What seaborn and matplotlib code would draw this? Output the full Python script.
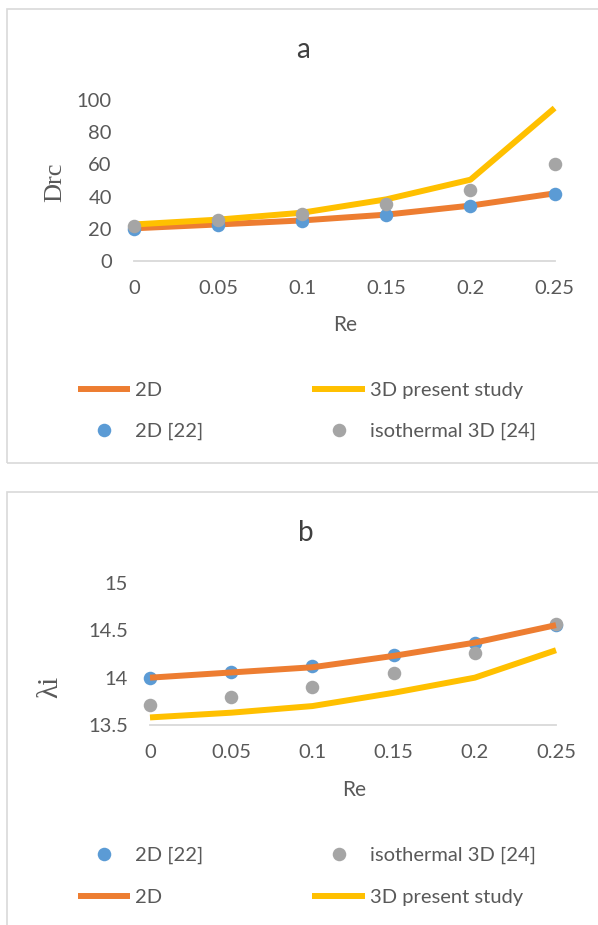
import numpy as np
import pandas as pd
import matplotlib
matplotlib.use("Agg")
import matplotlib.pyplot as plt
from matplotlib.patches import Rectangle
import seaborn as sns

sns.set_style("white")
plt.rcParams['font.family'] = ['Lato', 'DejaVu Sans']

# ------------------------------
# data
# ------------------------------
re_vals = [0, 0.05, 0.1, 0.15, 0.2, 0.25]
re_labels = ["0", "0.05", "0.1", "0.15", "0.2", "0.25"]

# panel a : Drc
drc_2d = [20.3, 22.7, 25.2, 28.8, 34.4, 42.0]
drc_3d_present = [22.7, 25.7, 30.0, 38.3, 50.5, 95.0]
drc_2d_ref22 = [20.0, 22.3, 25.0, 28.3, 34.2, 41.5]
drc_iso_3d_ref24 = [21.9, 25.2, 29.5, 35.4, 44.2, 60.5]

# panel b : lambda_i
lam_2d = [14.0, 14.055, 14.11, 14.23, 14.37, 14.555]
lam_3d_present = [13.58, 13.63, 13.70, 13.84, 14.0, 14.29]
lam_2d_ref22 = [14.0, 14.06, 14.12, 14.24, 14.37, 14.56]
lam_iso_3d_ref24 = [13.71, 13.80, 13.90, 14.05, 14.26, 14.57]

ORANGE = "#ED7D31"
YELLOW = "#FFC000"
BLUE = "#5B9BD5"
GREY = "#A5A5A5"
TXT = "#595959"
AXC = "#D9D9D9"

W, H = 598, 925
fig = plt.figure(figsize=(W / 100, H / 100), dpi=100)


def fx(px):
    return px / W


def fy(py):
    return 1 - py / H


# panel borders
fig.add_artist(Rectangle((fx(7), fy(463)), 1.0, fy(9) - fy(463),
                         transform=fig.transFigure, fill=False,
                         edgecolor=AXC, linewidth=1.2))
fig.add_artist(Rectangle((fx(7), fy(940)), 1.0, fy(492) - fy(940),
                         transform=fig.transFigure, fill=False,
                         edgecolor=AXC, linewidth=1.2))

LW = 4.3
S = 95


def style_axes(ax, ylim, yticks, ylabels):
    ax.set_xlim(0, 0.25)
    ax.set_ylim(*ylim)
    ax.set_xticks(re_vals)
    ax.set_xticklabels(re_labels)
    ax.set_yticks(yticks)
    ax.set_yticklabels(ylabels)
    for s in ["top", "right", "left"]:
        ax.spines[s].set_visible(False)
    ax.spines["bottom"].set_color(AXC)
    ax.spines["bottom"].set_linewidth(1.3)
    ax.tick_params(axis="both", length=0, labelsize=14.5, labelcolor=TXT)
    ax.tick_params(axis="x", pad=14)
    ax.tick_params(axis="y", pad=16)
    ax.set_facecolor("none")


# ==============================
# PANEL a
# ==============================
ax1 = fig.add_axes([fx(134), fy(261), fx(554.6) - fx(134), fy(100) - fy(261)])

sns.lineplot(x=re_vals, y=drc_2d, ax=ax1, color=ORANGE, linewidth=LW,
             label="2D", clip_on=False, solid_capstyle="butt")
sns.lineplot(x=re_vals, y=drc_3d_present, ax=ax1, color=YELLOW, linewidth=LW,
             label="3D present study", clip_on=False, solid_capstyle="butt")
sns.scatterplot(x=re_vals, y=drc_2d_ref22, ax=ax1, color=BLUE, s=S,
                linewidth=0, label="2D [22]", clip_on=False, zorder=3)
sns.scatterplot(x=re_vals, y=drc_iso_3d_ref24, ax=ax1, color=GREY, s=S,
                linewidth=0, label="isothermal 3D [24]", clip_on=False, zorder=3)

style_axes(ax1, (0, 100), [0, 20, 40, 60, 80, 100],
           ["0", "20", "40", "60", "80", "100"])
ax1.set_title("a", fontsize=20, color="#404040", pad=0,
              x=(303 - 134) / 420.6, y=(261 - 58) / 161)
ax1.set_xlabel("Re", fontsize=15, color=TXT)
ax1.xaxis.set_label_coords(0.502, (261 - 325) / 161)
ax1.xaxis.label.set_va("center")
ax1.set_ylabel("Drc", fontsize=19, color=TXT, family="Liberation Serif")
ax1.yaxis.set_label_coords((55 - 134) / 420.6, 0.49)
ax1.yaxis.label.set_va("center")

h, l = ax1.get_legend_handles_labels()
ax1.get_legend().remove()
order = ["2D", "2D [22]", "3D present study", "isothermal 3D [24]"]
hh = [h[l.index(o)] for o in order]
fig.legend(hh, order, loc="center left", bbox_to_anchor=(fx(78), fy(411)),
           ncol=2, frameon=False, fontsize=14.5, labelcolor=TXT,
           handlelength=2.6, handletextpad=0.25, columnspacing=5.4,
           labelspacing=1.2, borderpad=0, borderaxespad=0,
           scatterpoints=1, scatteryoffsets=[0.5])

# ==============================
# PANEL b
# ==============================
ax2 = fig.add_axes([fx(150), fy(725), fx(556) - fx(150), fy(583) - fy(725)])

sns.scatterplot(x=re_vals, y=lam_2d_ref22, ax=ax2, color=BLUE, s=S,
                linewidth=0, label="2D [22]", clip_on=False, zorder=2)
sns.scatterplot(x=re_vals, y=lam_iso_3d_ref24, ax=ax2, color=GREY, s=S,
                linewidth=0, label="isothermal 3D [24]", clip_on=False, zorder=2)
sns.lineplot(x=re_vals, y=lam_2d, ax=ax2, color=ORANGE, linewidth=LW,
             label="2D", clip_on=False, zorder=3, solid_capstyle="butt")
sns.lineplot(x=re_vals, y=lam_3d_present, ax=ax2, color=YELLOW, linewidth=LW,
             label="3D present study", clip_on=False, zorder=3,
             solid_capstyle="butt")

style_axes(ax2, (13.5, 15), [13.5, 14, 14.5, 15], ["13.5", "14", "14.5", "15"])
ax2.set_title("b", fontsize=20, color="#404040", pad=0,
              x=(306 - 150) / 406, y=(725 - 541) / 142)
ax2.set_xlabel("Re", fontsize=15, color=TXT)
ax2.xaxis.set_label_coords((354 - 150) / 406, (725 - 790) / 142)
ax2.xaxis.label.set_va("center")
ax2.set_ylabel("λi", fontsize=21, color=TXT, family="Liberation Serif")
ax2.yaxis.set_label_coords((50 - 150) / 406, (725 - 687) / 142)
ax2.yaxis.label.set_va("center")

h, l = ax2.get_legend_handles_labels()
ax2.get_legend().remove()
order = ["2D [22]", "2D", "isothermal 3D [24]", "3D present study"]
hh = [h[l.index(o)] for o in order]
fig.legend(hh, order, loc="center left", bbox_to_anchor=(fx(78), fy(876.5)),
           ncol=2, frameon=False, fontsize=14.5, labelcolor=TXT,
           handlelength=2.6, handletextpad=0.25, columnspacing=5.4,
           labelspacing=1.25, borderpad=0, borderaxespad=0,
           scatterpoints=1, scatteryoffsets=[0.5])

plt.savefig("out.png", dpi=100)
